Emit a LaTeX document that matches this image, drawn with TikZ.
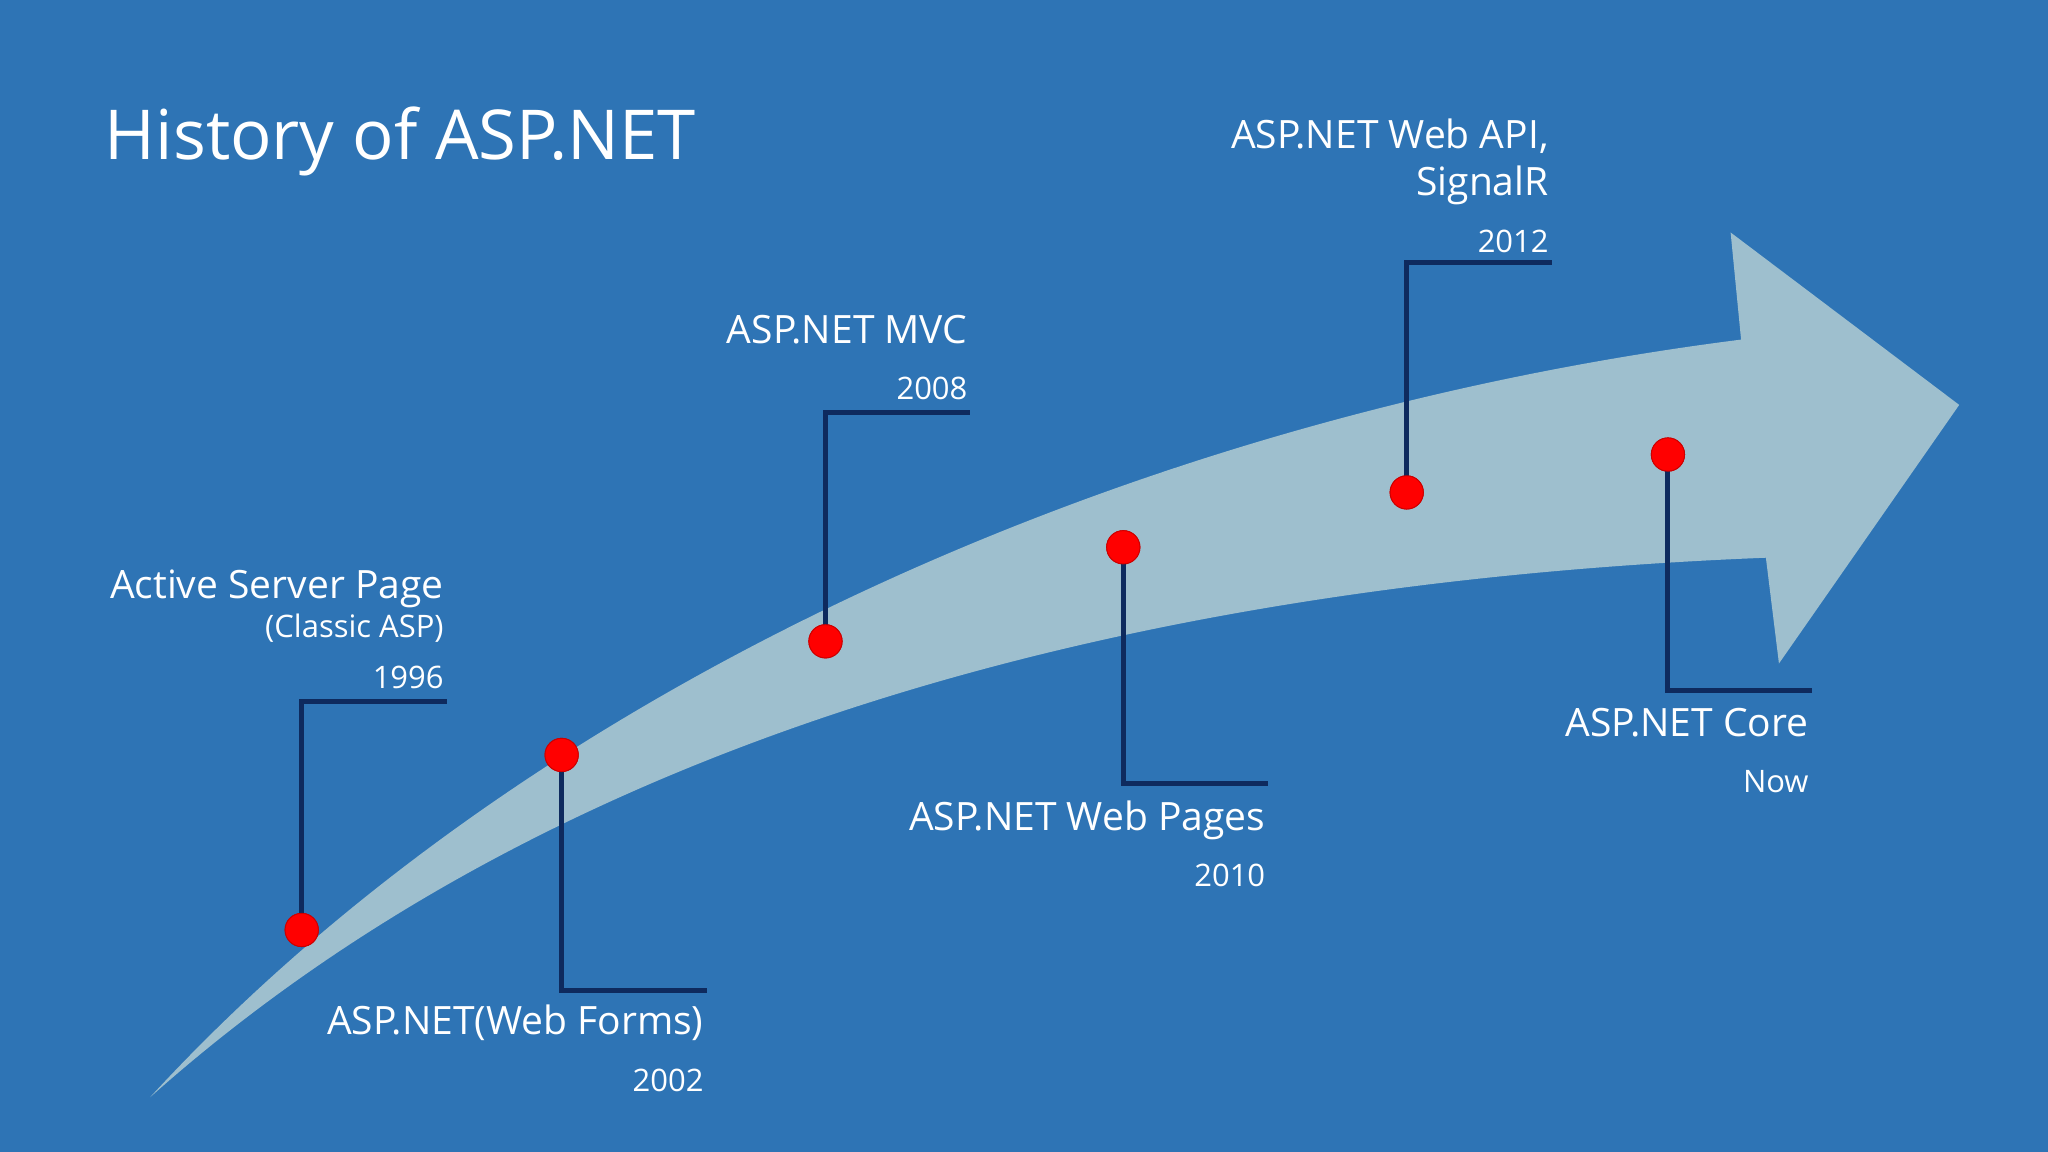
\documentclass[tikz,border=0pt]{standalone}
\usepackage{fontspec}
\setmainfont{Open Sans}
\definecolor{bg}{HTML}{2E74B5}
\definecolor{arr}{HTML}{9EBFCE}
\definecolor{navy}{HTML}{0E2A5E}
\begin{document}
\begin{tikzpicture}[x=0.02cm,y=-0.02cm,
  dot/.style={circle,fill=red,draw=red!80!black,inner sep=0,minimum size=14.5pt},
  con/.style={draw=navy,line width=2.2pt},
  lab/.style={text=white,anchor=base east,inner sep=0,font=\fontsize{17}{20}\selectfont},
  yr/.style={text=white,anchor=base east,inner sep=0,font=\fontsize{13.5}{16}\selectfont}]
\fill[bg] (0,0) rectangle (1568,882);
\useasboundingbox (0,0) rectangle (1568,882);
\fill[arr] (115,840) .. controls (400,530) and (860,320) .. (1333,260)
  -- (1325,178) -- (1500,310) -- (1362,508) -- (1352,427)
  .. controls (900,445) and (440,550) .. (115,840) -- cycle;
\node[text=white,anchor=base west,inner sep=0,font=\fontsize{30}{36}\selectfont] (title) at (80,122) {History of ASP.NET};
% dots
\node[dot] (d1) at (231,712) {};
\node[dot] (d2) at (430,578) {};
\node[dot] (d3) at (632,491) {};
\node[dot] (d4) at (860,419) {};
\node[dot] (d5) at (1077,377) {};
\node[dot] (d6) at (1277,348) {};
\coordinate (c1) at (231,537); \coordinate (e1) at (342,537);
\coordinate (c2) at (430,758); \coordinate (e2) at (541,758);
\coordinate (c3) at (632,316); \coordinate (e3) at (743,316);
\coordinate (c4) at (860,600); \coordinate (e4) at (971,600);
\coordinate (c5) at (1077,201); \coordinate (e5) at (1188,201);
\coordinate (c6) at (1277,529); \coordinate (e6) at (1387,529);
\foreach \i in {1,...,6}{\draw[con] (d\i.center) -- (c\i) -- (e\i);}
\foreach \i in {1,...,6}{\node[dot] at (d\i) {};}
% labels
\node[lab] (t1) at (340,458) {Active Server Page};
\node[yr] (s1) at (340,488) {(Classic ASP)};
\node[yr] (y1) at (340,527) {1996};
\node[lab] (t2) at (539,792) {ASP.NET(Web Forms)};
\node[yr] (y2) at (539,836) {2002};
\node[lab] (t3) at (741,263) {ASP.NET MVC};
\node[yr] (y3) at (741,306) {2008};
\node[lab] (t4) at (969,636) {ASP.NET Web Pages};
\node[yr] (y4) at (969,679) {2010};
\node[lab] (t5) at (1186,114) {ASP.NET Web API,};
\node[lab] (t5b) at (1186,150) {SignalR};
\node[yr] (y5) at (1186,193) {2012};
\node[lab] (t6) at (1385,564) {ASP.NET Core};
\node[yr] (y6) at (1385,607) {Now};
\end{tikzpicture}
\end{document}
